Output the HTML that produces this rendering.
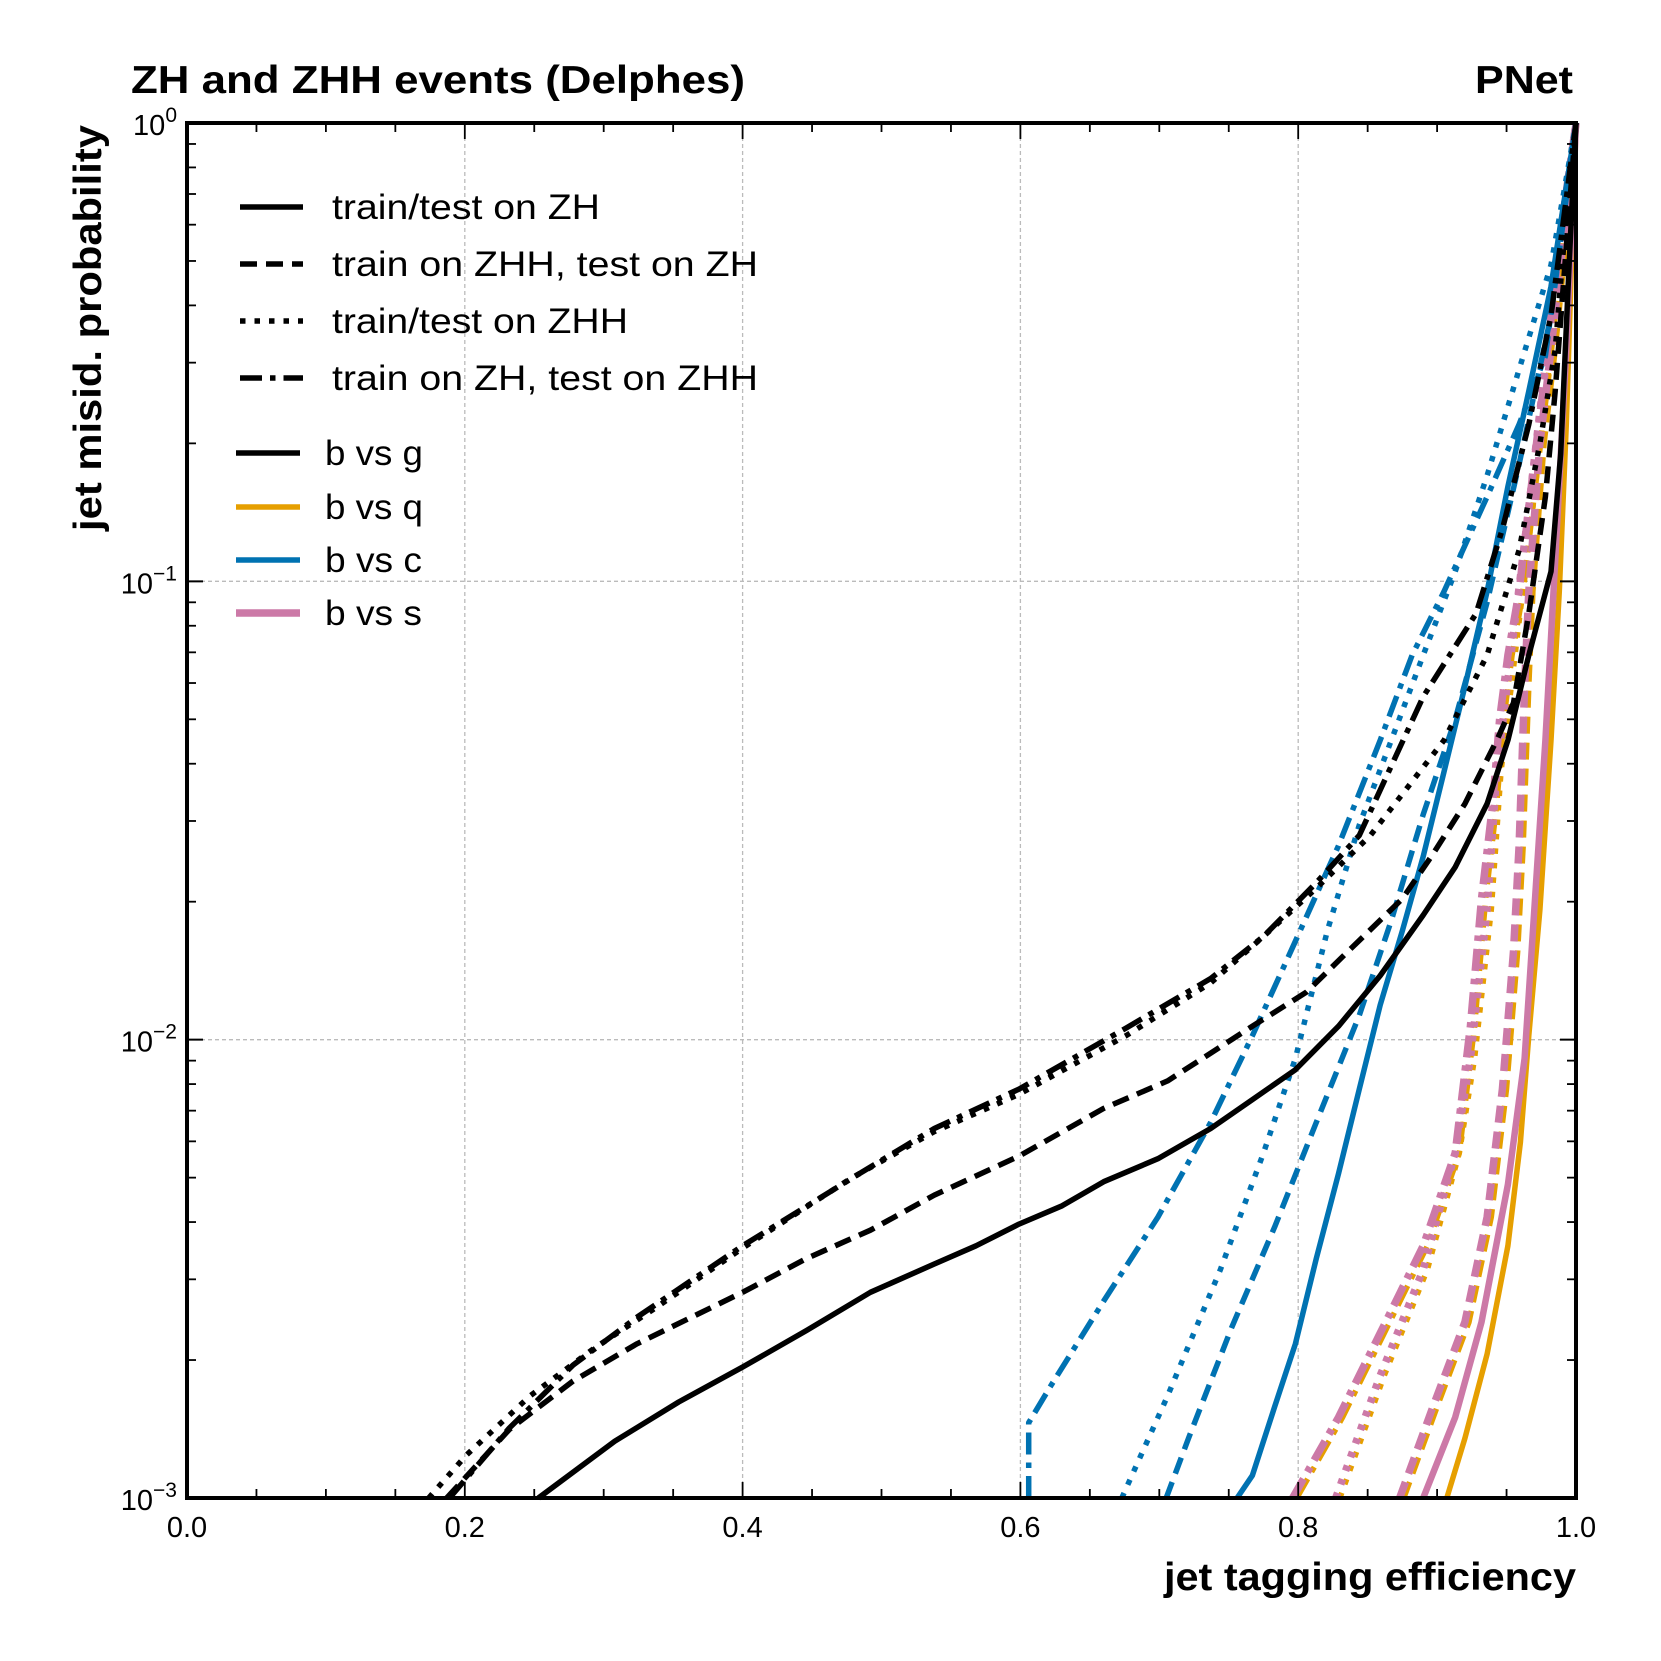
<!DOCTYPE html>
<html><head><meta charset="utf-8"><style>
html,body{margin:0;padding:0;background:#fff;}
svg{display:block;font-family:"Liberation Sans",Arial,sans-serif;}
</style></head><body>
<svg id="chart" width="1661" height="1661" viewBox="0 0 1661 1661">
<g id="grid"></g><g id="curves"></g><g id="axes"></g><g id="legend"></g>
</svg>
<script>
// ---- data ----
const bg_zh_x=[0.253,0.308,0.354,0.400,0.446,0.492,0.538,0.568,0.599,0.630,0.660,0.699,0.737,0.767,0.798,0.829,0.859,0.890,0.913,0.936,0.951,0.966,0.982,0.989,0.995,1.0];
const bg_zh_y=[1e-3,1.33e-3,1.62e-3,1.93e-3,2.32e-3,2.81e-3,3.24e-3,3.55e-3,3.96e-3,4.34e-3,4.9e-3,5.5e-3,6.4e-3,7.4e-3,8.6e-3,1.07e-2,1.38e-2,1.87e-2,2.38e-2,3.27e-2,4.5e-2,6.9e-2,0.105,0.19,0.49,1];
const bg_zhhzh_x=[0.187,0.232,0.278,0.324,0.400,0.446,0.492,0.538,0.599,0.660,0.706,0.767,0.806,0.836,0.875,0.897,0.920,0.943,0.955,0.966,0.978,0.985,0.992,1.0];
const bg_zhhzh_y=[1e-3,1.41e-3,1.80e-3,2.17e-3,2.81e-3,3.33e-3,3.84e-3,4.58e-3,5.57e-3,7.08e-3,8.13e-3,1.07e-2,1.27e-2,1.56e-2,2.03e-2,2.54e-2,3.27e-2,4.5e-2,5.43e-2,8.5e-2,0.153,0.26,0.49,1];
const bg_zhh_x=[0.174,0.201,0.247,0.293,0.339,0.400,0.477,0.538,0.599,0.676,0.737,0.775,0.813,0.852,0.905,0.936,0.959,0.974,0.985,0.992,1.0];
const bg_zhh_y=[1e-3,1.24e-3,1.67e-3,2.12e-3,2.62e-3,3.51e-3,4.96e-3,6.3e-3,7.6e-3,1.02e-2,1.33e-2,1.68e-2,2.14e-2,2.79e-2,4.5e-2,6.9e-2,0.117,0.2,0.32,0.58,1];
const bg_zhzhh_x=[0.189,0.232,0.278,0.324,0.400,0.484,0.538,0.599,0.676,0.737,0.775,0.813,0.844,0.890,0.928,0.947,0.966,0.982,0.989,1.0];
const bg_zhzhh_y=[1e-3,1.42e-3,1.95e-3,2.48e-3,3.55e-3,5.1e-3,6.4e-3,7.8e-3,1.06e-2,1.36e-2,1.68e-2,2.2e-2,2.79e-2,5.6e-2,8.5e-2,0.13,0.22,0.38,0.55,1];
const bc_zh_x=[0.756,0.767,0.783,0.798,0.813,0.829,0.844,0.859,0.875,0.890,0.905,0.920,0.936,0.951,0.966,0.982,1.0];
const bc_zh_y=[1e-3,1.12e-3,1.58e-3,2.17e-3,3.33e-3,5.1e-3,7.8e-3,1.19e-2,1.73e-2,2.51e-2,3.84e-2,5.9e-2,9.5e-2,0.161,0.26,0.44,1];
const bc_zhhzh_x=[0.705,0.721,0.752,0.783,0.813,0.844,0.867,0.890,0.913,0.936,0.959,0.982,1.0];
const bc_zhhzh_y=[1e-3,1.35e-3,2.35e-3,3.9e-3,6.6e-3,1.13e-2,1.82e-2,3.1e-2,5.0e-2,9.0e-2,0.18,0.38,1];
const bc_zhh_x=[0.673,0.706,0.744,0.775,0.798,0.821,0.844,0.867,0.890,0.913,0.936,0.959,0.982,1.0];
const bc_zhh_y=[1e-3,1.67e-3,3.15e-3,5.66e-3,9.1e-3,1.73e-2,2.94e-2,4.5e-2,6.9e-2,0.105,0.17,0.29,0.49,1];
const bc_zhzhh_x=[0.606,0.606,0.622,0.660,0.699,0.737,0.767,0.798,0.829,0.859,0.882,0.905,0.936,0.959,0.978,1.0];
const bc_zhzhh_y=[1e-3,1.46e-3,1.76e-3,2.69e-3,4.1e-3,6.6e-3,1.02e-2,1.64e-2,2.65e-2,4.5e-2,6.9e-2,9.5e-2,0.153,0.22,0.31,1];
const bq_zh_x=[0.907,0.920,0.936,0.951,0.960,0.966,0.974,0.982,0.988,0.993,1.0];
const bq_zh_y=[1e-3,1.35e-3,2.06e-3,3.55e-3,5.97e-3,1.02e-2,1.92e-2,4.5e-2,9.5e-2,0.22,1];
const bq_zhhzh_x=[0.876,0.900,0.923,0.939,0.950,0.958,0.962,0.966,0.969,0.977,0.985,0.995,1.0];
const bq_zhhzh_y=[1e-3,1.58e-3,2.42e-3,4.1e-3,7.8e-3,1.56e-2,2.65e-2,5.9e-2,9.5e-2,0.2,0.32,0.64,1];
const bq_zhh_x=[0.830,0.862,0.893,0.916,0.927,0.939,0.946,0.958,0.969,0.985,1.0];
const bq_zhh_y=[1e-3,1.85e-3,3.15e-3,5.66e-3,9.1e-3,1.92e-2,3.84e-2,7.7e-2,0.145,0.38,1];
const bq_zhzhh_x=[0.799,0.832,0.862,0.893,0.916,0.927,0.935,0.943,0.948,0.954,0.962,0.969,0.981,0.991,1.0];
const bq_zhzhh_y=[1e-3,1.50e-3,2.29e-3,3.55e-3,5.66e-3,1.07e-2,2.03e-2,3.27e-2,5.0e-2,6.9e-2,9.5e-2,0.145,0.29,0.58,1];
const bs_zh_x=[0.890,0.913,0.932,0.951,0.963,0.970,0.978,0.985,0.993,1.0];
const bs_zh_y=[1e-3,1.50e-3,2.42e-3,4.83e-3,9.1e-3,1.92e-2,4.5e-2,0.111,0.32,1];
const bs_zhhzh_x=[0.873,0.897,0.920,0.936,0.947,0.955,0.959,0.963,0.966,0.974,0.982,0.993,1.0];
const bs_zhhzh_y=[1e-3,1.58e-3,2.42e-3,4.1e-3,7.8e-3,1.56e-2,2.65e-2,5.9e-2,9.5e-2,0.2,0.32,0.64,1];
const bs_zhh_x=[0.827,0.859,0.890,0.913,0.924,0.936,0.943,0.955,0.966,0.982,1.0];
const bs_zhh_y=[1e-3,1.85e-3,3.15e-3,5.66e-3,9.1e-3,1.92e-2,3.84e-2,7.7e-2,0.145,0.38,1];
const bs_zhzhh_x=[0.796,0.829,0.859,0.890,0.913,0.924,0.932,0.940,0.945,0.951,0.959,0.966,0.978,0.989,1.0];
const bs_zhzhh_y=[1e-3,1.50e-3,2.29e-3,3.55e-3,5.66e-3,1.07e-2,2.03e-2,3.27e-2,5.0e-2,6.9e-2,9.5e-2,0.145,0.29,0.58,1];
const xTicks=[0.0,0.2,0.4,0.6,0.8,1.0];
const xTickLabels=["0.0","0.2","0.4","0.6","0.8","1.0"];
const yDecades=[0,-1,-2,-3];

// ---- scales ----
const L=187,R=1576,T=123,B=1498;
const sx=v=>L+v*(R-L);
const sy=v=>T+(-Math.log10(v))/3*(B-T);
const NS="http://www.w3.org/2000/svg";
function mk(tag,attrs,parent){const e=document.createElementNS(NS,tag);for(const k in attrs)e.setAttribute(k,attrs[k]);parent.appendChild(e);return e;}
const grid=document.getElementById('grid'),curves=document.getElementById('curves'),axes=document.getElementById('axes'),legend=document.getElementById('legend');

xTicks.slice(1,-1).forEach(v=>{const l=mk('line',{x1:sx(v),x2:sx(v),y1:T,y2:B,stroke:'#bbb','stroke-width':1.3,'stroke-dasharray':'4,3'},grid);

});
yDecades.slice(1,-1).forEach(d=>{const l=mk('line',{x1:L,x2:R,y1:sy(Math.pow(10,d)),y2:sy(Math.pow(10,d)),stroke:'#bbb','stroke-width':1.3,'stroke-dasharray':'4,3'},grid);

});

const DASH={solid:'',dashed:'17,9',dotted:'5.5,9',dashdot:'22,8,5.5,8'};
const series=[
 [bq_zhhzh_x,bq_zhhzh_y,'#E69F00','dashed',5.5,'bq-zhh-zh'],
 [bq_zhh_x,bq_zhh_y,'#E69F00','dotted',5.5,'bq-zhh'],
 [bq_zhzhh_x,bq_zhzhh_y,'#E69F00','dashdot',5.5,'bq-zh-zhh'],
 [bq_zh_x,bq_zh_y,'#E69F00','solid',5.5,'bq-zh'],
 [bs_zh_x,bs_zh_y,'#CC79A7','solid',6.5,'bs-zh'],
 [bs_zhhzh_x,bs_zhhzh_y,'#CC79A7','dashed',7.5,'bs-zhh-zh'],
 [bs_zhh_x,bs_zhh_y,'#CC79A7','dotted',7.5,'bs-zhh'],
 [bs_zhzhh_x,bs_zhzhh_y,'#CC79A7','dashdot',7.5,'bs-zh-zhh'],
 [bc_zh_x,bc_zh_y,'#0072B2','solid',5.5,'bc-zh'],
 [bc_zhhzh_x,bc_zhhzh_y,'#0072B2','dashed',5.5,'bc-zhh-zh'],
 [bc_zhh_x,bc_zhh_y,'#0072B2','dotted',5.5,'bc-zhh'],
 [bc_zhzhh_x,bc_zhzhh_y,'#0072B2','dashdot',5.5,'bc-zh-zhh'],
 [bg_zh_x,bg_zh_y,'#000','solid',5.5,'bg-zh'],
 [bg_zhhzh_x,bg_zhhzh_y,'#000','dashed',5.5,'bg-zhh-zh'],
 [bg_zhh_x,bg_zhh_y,'#000','dotted',5.5,'bg-zhh'],
 [bg_zhzhh_x,bg_zhzhh_y,'#000','dashdot',5.5,'bg-zh-zhh']
];
series.forEach(s=>{
 const pts=s[0].map((x,i)=>sx(x).toFixed(1)+','+sy(s[1][i]).toFixed(1)).join(' ');
 const p=mk('polyline',{points:pts,fill:'none',stroke:s[2],'stroke-width':s[4],'stroke-dasharray':DASH[s[3]],'stroke-linejoin':'round'},curves);
 
 
});

const fr=mk('rect',{x:L,y:T,width:R-L,height:B-T,fill:'none',stroke:'#000','stroke-width':4},axes);


for(let i=0;i<=20;i++){const v=i*0.05,maj=i%4===0,len=maj?16:9;
 mk('line',{x1:sx(v),x2:sx(v),y1:B,y2:B-len,stroke:'#000','stroke-width':1.8},axes);
 mk('line',{x1:sx(v),x2:sx(v),y1:T,y2:T+len,stroke:'#000','stroke-width':1.8},axes);}
xTicks.forEach((v,i)=>{const t=mk('text',{x:sx(v),y:1537,'text-anchor':'middle','font-size':29},axes);t.textContent=xTickLabels[i];

});
for(let d=-3;d<0;d++){for(let m=1;m<=10;m++){const v=m*Math.pow(10,d),maj=(m===1||m===10),len=maj?16:9;
 mk('line',{x1:L,x2:L+len,y1:sy(v),y2:sy(v),stroke:'#000','stroke-width':1.8},axes);
 mk('line',{x1:R,x2:R-len,y1:sy(v),y2:sy(v),stroke:'#000','stroke-width':1.8},axes);}}
yDecades.forEach(d=>{const t=mk('text',{x:177,y:sy(Math.pow(10,d))+12,'text-anchor':'end','font-size':29},axes);
 t.innerHTML='10<tspan dy="-13" font-size="21">'+(d===0?'0':'\u2212'+(-d))+'</tspan>';
 
 });

const tt=mk('text',{x:131,y:93,'font-size':39,'font-weight':'bold',textLength:614,lengthAdjust:'spacingAndGlyphs'},axes);tt.textContent='ZH and ZHH events (Delphes)';


const pn=mk('text',{x:1573,y:93,'font-size':39,'font-weight':'bold','text-anchor':'end',textLength:98,lengthAdjust:'spacingAndGlyphs'},axes);pn.textContent='PNet';


const xl=mk('text',{x:1576,y:1590,'font-size':39,'font-weight':'bold','text-anchor':'end',textLength:412,lengthAdjust:'spacingAndGlyphs'},axes);xl.textContent='jet tagging efficiency';


const yl=mk('text',{x:0,y:0,'font-size':39,'font-weight':'bold','text-anchor':'end',textLength:406,lengthAdjust:'spacingAndGlyphs',transform:'translate(101,125) rotate(-90)'},axes);yl.textContent='jet misid. probability';



const styleEntries=[['solid','train/test on ZH',268],['dashed','train on ZHH, test on ZH',426],['dotted','train/test on ZHH',296],['dashdot','train on ZH, test on ZHH',426]];
const styleY=[207,264,321,378];
styleEntries.forEach((e,i)=>{
 const g=mk('g',{},legend);
 
 
 mk('line',{x1:240,x2:303,y1:styleY[i],y2:styleY[i],stroke:'#000','stroke-width':5.5,'stroke-dasharray':DASH[e[0]]},g);
 const t=mk('text',{x:332,y:styleY[i]+12,'font-size':35,textLength:e[2],lengthAdjust:'spacingAndGlyphs'},g);t.textContent=e[1];
});
const colorEntries=[['#000','b vs g',5.5,98],['#E69F00','b vs q',5.5,98],['#0072B2','b vs c',5.5,97],['#CC79A7','b vs s',7.5,97]];
const colorY=[453,507,560,613];
colorEntries.forEach((e,i)=>{
 const g=mk('g',{},legend);
 
 
 mk('line',{x1:236,x2:300,y1:colorY[i],y2:colorY[i],stroke:e[0],'stroke-width':e[2]},g);
 const t=mk('text',{x:325,y:colorY[i]+12,'font-size':35,textLength:e[3],lengthAdjust:'spacingAndGlyphs'},g);t.textContent=e[1];
});
</script>
</body></html>
